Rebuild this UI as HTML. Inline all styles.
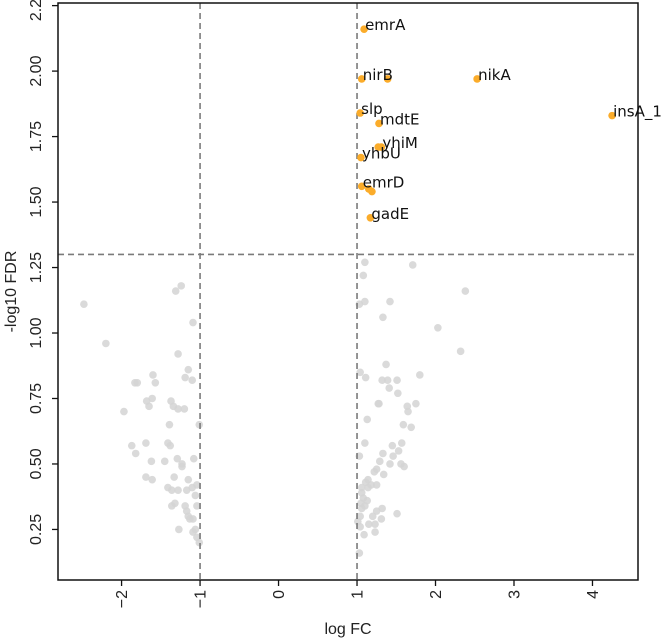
<!DOCTYPE html>
<html><head><meta charset="utf-8"><style>
html,body{margin:0;padding:0;background:#fff;}
svg{display:block;}
</style></head><body>
<svg id="chart" width="666" height="642" xmlns="http://www.w3.org/2000/svg">
  <g id="points-gray"></g>
  <g id="guides"></g>
  <g id="points-sig"></g>
  <g id="axes"></g>
</svg>
<script>
const grayX = [-2.48,-1.31,-1.24,-1.09,-2.20,-1.28,-1.15,-1.19,-1.10,-1.60,-1.57,-1.83,-1.80,-1.68,-1.61,-1.65,-1.37,-1.34,-1.28,-1.20,-1.97,-1.39,-1.01,-1.38,
-1.87,-1.69,-1.41,-1.82,-1.62,-1.45,-1.29,-1.23,-1.23,-1.08,-1.69,-1.61,-1.33,-1.15,-1.41,-1.36,-1.28,-1.17,-1.10,-1.04,-1.06,-1.32,-1.36,-1.19,-1.17,-1.04,-1.15,-1.13,-1.09,-1.27,-1.06,-1.09,-1.04,-1.01,
1.10,1.71,1.08,2.38,1.03,1.10,1.42,1.33,2.03,2.32,1.37,1.04,1.11,1.32,1.39,1.51,1.41,1.52,1.80,1.27,1.28,1.64,1.65,1.75,1.13,1.59,1.69,
1.10,1.45,1.57,1.53,1.03,1.33,1.46,1.29,1.42,1.56,1.60,1.25,1.22,1.34,1.14,1.11,1.18,1.25,1.06,1.14,1.06,1.08,1.13,1.05,1.10,1.06,1.32,1.25,1.20,1.31,1.51,1.04,1.01,1.15,1.23,1.04,1.09,1.23,1.03];
const grayY = [1.11,1.16,1.18,1.04,0.96,0.92,0.86,0.83,0.82,0.84,0.81,0.81,0.81,0.74,0.75,0.72,0.74,0.72,0.71,0.71,0.70,0.65,0.65,0.57,
0.57,0.58,0.58,0.54,0.51,0.51,0.52,0.50,0.49,0.52,0.45,0.44,0.45,0.44,0.41,0.40,0.40,0.40,0.41,0.42,0.38,0.35,0.34,0.34,0.32,0.34,0.30,0.29,0.29,0.25,0.25,0.24,0.22,0.20,
1.27,1.26,1.22,1.16,1.11,1.12,1.12,1.06,1.02,0.93,0.88,0.85,0.83,0.82,0.82,0.82,0.79,0.77,0.84,0.73,0.73,0.72,0.70,0.73,0.67,0.65,0.64,
0.58,0.57,0.58,0.55,0.53,0.54,0.53,0.51,0.50,0.50,0.49,0.48,0.47,0.46,0.44,0.43,0.42,0.42,0.41,0.41,0.39,0.37,0.36,0.35,0.34,0.33,0.33,0.32,0.30,0.29,0.31,0.30,0.28,0.27,0.27,0.26,0.23,0.24,0.16];
const sigX = [1.09,1.06,1.39,2.53,1.04,1.28,1.31,1.27,1.05,1.06,1.15,1.19,1.17,4.25];
const sigY = [2.16,1.97,1.97,1.97,1.84,1.80,1.71,1.71,1.67,1.56,1.55,1.54,1.44,1.83];
const sigLabels = ["emrA","nirB","","nikA","slp","mdtE","yhiM","","yhbU","emrD","","","gadE","insA_1"];
const xTicks = [-2,-1,0,1,2,3,4];
const xTickLabels = ["\u22122","\u22121","0","1","2","3","4"];
const yTicks = [0.25,0.5,0.75,1.0,1.25,1.5,1.75,2.0,2.25];
const yTickLabels = ["0.25","0.50","0.75","1.00","1.25","1.50","1.75","2.00","2.25"];
const fcThresholds = [-1,1];
const fdrThreshold = 1.3;

const NS='http://www.w3.org/2000/svg';
const L=58,R=638,T=3,B=580;
const xMin=-2.81,xMax=4.58,yMin=0.057,yMax=2.26;
function sx(v){return L+(v-xMin)/(xMax-xMin)*(R-L);}
function sy(v){return B-(v-yMin)/(yMax-yMin)*(B-T);}
function mk(tag,attrs,parent){const e=document.createElementNS(NS,tag);for(const k in attrs)e.setAttribute(k,attrs[k]);parent.appendChild(e);return e;}

const gG=document.getElementById('points-gray');
for(let i=0;i<grayX.length;i++){
  const c=mk('circle',{cx:sx(grayX[i]),cy:sy(grayY[i]),r:3.8,fill:'#d4d4d4','fill-opacity':0.85},gG);
  
  
}
const gd=document.getElementById('guides');
fcThresholds.forEach(t=>{
  const l=mk('line',{x1:sx(t),x2:sx(t),y1:T,y2:B,stroke:'#7a7a7a','stroke-width':1.6,'stroke-dasharray':'6,4'},gd);
  
  
});
const hl=mk('line',{x1:L,x2:R,y1:sy(fdrThreshold),y2:sy(fdrThreshold),stroke:'#7a7a7a','stroke-width':1.6,'stroke-dasharray':'6,4'},gd);



const gS=document.getElementById('points-sig');
for(let i=0;i<sigX.length;i++){
  const c=mk('circle',{cx:sx(sigX[i]),cy:sy(sigY[i]),r:3.8,fill:'#fbac2a'},gS);
  
  
}
for(let i=0;i<sigX.length;i++){
  if(!sigLabels[i])continue;
  const t=mk('text',{x:sx(sigX[i])+1,y:sy(sigY[i])+1,'font-family':'DejaVu Sans, sans-serif','font-size':15,fill:'#111'},gS);
  t.textContent=sigLabels[i];
  
  
}

const ax=document.getElementById('axes');
const fr=mk('rect',{x:L,y:T,width:R-L,height:B-T,fill:'none',stroke:'#111','stroke-width':1.5},ax);


xTicks.forEach((v,i)=>{
  const x=sx(v);
  const tk=mk('line',{x1:x,x2:x,y1:B,y2:B+6,stroke:'#111','stroke-width':1.3},ax);
  
  
  const t=mk('text',{x:0,y:0,transform:`translate(${x+5.5},${B+10}) rotate(-90)`,'font-family':'Liberation Sans, sans-serif','font-size':16,'text-anchor':'end',fill:'#222'},ax);
  t.textContent=xTickLabels[i];
  
  
});
yTicks.forEach((v,i)=>{
  const y=sy(v);
  const tk=mk('line',{x1:L-6,x2:L,y1:y,y2:y,stroke:'#111','stroke-width':1.3},ax);
  
  
  const t=mk('text',{x:0,y:0,transform:`translate(${L-17},${y}) rotate(-90)`,'font-family':'Liberation Sans, sans-serif','font-size':16,'text-anchor':'middle',fill:'#222'},ax);
  t.textContent=yTickLabels[i];
  
  
});
const xt=mk('text',{x:(L+R)/2,y:634,'font-family':'Liberation Sans, sans-serif','font-size':16,'text-anchor':'middle',fill:'#222'},ax);
xt.textContent='log FC';


const yt=mk('text',{x:0,y:0,transform:`translate(16,${(T+B)/2}) rotate(-90)`,'font-family':'Liberation Sans, sans-serif','font-size':16,'text-anchor':'middle',fill:'#222'},ax);
yt.textContent='-log10 FDR';


</script>
</body></html>
